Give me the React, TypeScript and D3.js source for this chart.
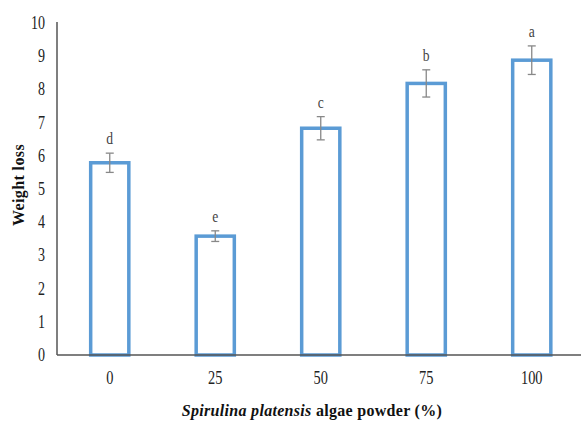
import React from "react";
import * as d3 from "d3";

const categories = ["0", "25", "50", "75", "100"];
const values = [5.79, 3.58, 6.83, 8.18, 8.88];
const errors = [0.29, 0.16, 0.35, 0.41, 0.43];
const letters = ["d", "e", "c", "b", "a"];
const yTicks = [0, 1, 2, 3, 4, 5, 6, 7, 8, 9, 10];

export default function App() {
  const W = 581, H = 426;
  const left = 57, right = 584.5, top = 23, bottom = 355;
  const x = d3.scaleBand<string>().domain(categories).range([left, right]).paddingInner(0.61).paddingOuter(0.305);
  const y = d3.scaleLinear().domain([0, 10]).range([bottom, top]);
  const blue = "#5B9BD5";
  const font = "'Liberation Serif', 'Times New Roman', serif";
  const tickStyle = { fontFamily: font, fontSize: 18, fill: "#222" } as const;
  return (
    <svg width={W} height={H} style={{ position: "absolute", left: 0, top: 0, background: "#fff" }}>
      <rect x={0} y={0} width={W} height={H} fill="#fff" />
      {categories.map((c, i) => {
        const bx = x(c)!;
        const bw = x.bandwidth();
        const cx = bx + bw / 2;
        const v = values[i], e = errors[i];
        return (
          <g key={c}>
            <rect x={bx + 1.5} y={y(v)} width={bw - 3} height={y(0) - y(v)} fill="#fff" stroke={blue} strokeWidth={3.5} />
            <line x1={cx} x2={cx} y1={y(v + e)} y2={y(v - e)} stroke="#888" strokeWidth={1.3} />
            <line x1={cx - 4} x2={cx + 4} y1={y(v + e)} y2={y(v + e)} stroke="#888" strokeWidth={1.3} />
            <line x1={cx - 4} x2={cx + 4} y1={y(v - e)} y2={y(v - e)} stroke="#888" strokeWidth={1.3} />
            <text transform={`translate(${cx},${y(v + e) - 9}) scale(0.85,1.1)`} textAnchor="middle" style={{ fontFamily: font, fontSize: 16, fill: "#444" }}>{letters[i]}</text>
            <text transform={`translate(${cx},${384}) scale(0.8,1)`} textAnchor="middle" style={tickStyle}>{c}</text>
          </g>
        );
      })}
      {yTicks.map((t) => (
        <text key={t} transform={`translate(${45},${y(t) + 6}) scale(0.78,1)`} textAnchor="end" style={tickStyle}>{t}</text>
      ))}
      <line x1={left} x2={left} y1={top - 1} y2={bottom} stroke="#555" strokeWidth={1.5} />
      <line x1={left} x2={W} y1={bottom} y2={bottom} stroke="#555" strokeWidth={1.5} />
      <text transform={`translate(24,${185}) rotate(-90)`} textAnchor="middle" style={{ fontFamily: font, fontSize: 16, fontWeight: "bold", letterSpacing: 0.4, fill: "#111" }}>Weight loss</text>
      <text x={312} y={416} textAnchor="middle" style={{ fontFamily: font, fontSize: 16, fontWeight: "bold", letterSpacing: 0.3, fill: "#111" }}>
        <tspan fontStyle="italic">Spirulina platensis</tspan> algae powder (%)
      </text>
    </svg>
  );
}
